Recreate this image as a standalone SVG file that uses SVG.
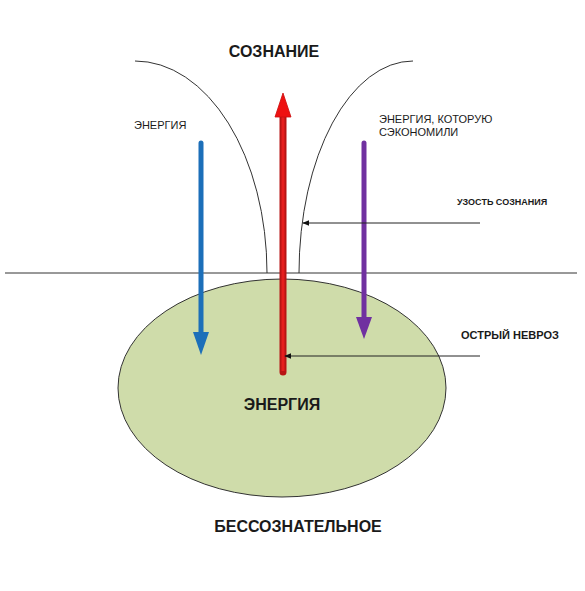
<svg xmlns="http://www.w3.org/2000/svg" width="585" height="591" viewBox="0 0 585 591">
<style>
.t{font-family:"Liberation Sans",Arial,sans-serif;fill:#1a1a1a}
.b{font-weight:bold}
.thin{fill:none;stroke:#333;stroke-width:1}
.ptr{fill:none;stroke:#222;stroke-width:1}
</style>
<defs>
<marker id="sm" viewBox="0 0 10 10" refX="9" refY="5" markerWidth="7" markerHeight="7" markerUnits="userSpaceOnUse" orient="auto">
<path d="M0,1 L10,5 L0,9 z" fill="#111"/>
</marker>
</defs>
<rect width="585" height="591" fill="#fff"/>
<g id="unconscious">
<ellipse cx="282" cy="388" rx="164" ry="109" fill="#cfdcaa" stroke="#333" stroke-width="1"/>
</g>
<g id="boundary">
<line x1="5" y1="273" x2="577" y2="273" class="thin"/>
<path d="M135,61 A132,212 0 0 1 267,273" class="thin"/>
<path d="M413,61 A114,212 0 0 0 299,273" class="thin"/>
</g>
<g id="connectors">
<g id="blue-arrow">
<line x1="201" y1="143" x2="201" y2="334" stroke="#1c6fb9" stroke-width="5" stroke-linecap="round"/>
<path d="M193,332 L209,332 L201,355 z" fill="#1c6fb9"/>
</g>
<g id="red-arrow">
<line x1="283" y1="372" x2="283" y2="115" stroke="#b81414" stroke-width="7" stroke-linecap="round"/>
<line x1="283" y1="371" x2="283" y2="115" stroke="#e61e1e" stroke-width="3"/>
<path d="M275,117 L291,117 L283,93 z" fill="#ee1111" stroke="#cc0c0c" stroke-width="0.8"/>
</g>
<g id="purple-arrow">
<line x1="364" y1="143" x2="364" y2="320" stroke="#7030a0" stroke-width="5" stroke-linecap="round"/>
<path d="M356,317 L372,317 L364,339 z" fill="#7030a0"/>
</g>
<line x1="480" y1="223" x2="303" y2="223" class="ptr" marker-end="url(#sm)"/>
<line x1="480" y1="356" x2="285" y2="356" class="ptr" marker-end="url(#sm)"/>
</g>
<g id="labels">
<text class="t b" x="274" y="57" font-size="16" text-anchor="middle">СОЗНАНИЕ</text>
<text class="t" x="134" y="129" font-size="11">ЭНЕРГИЯ</text>
<text class="t" x="379" y="123" font-size="11">ЭНЕРГИЯ, КОТОРУЮ</text>
<text class="t" x="379" y="136" font-size="11">СЭКОНОМИЛИ</text>
<text class="t b" x="457" y="205" font-size="9">УЗОСТЬ СОЗНАНИЯ</text>
<text class="t b" x="461" y="339" font-size="11">ОСТРЫЙ НЕВРОЗ</text>
<text class="t b" x="282" y="410" font-size="16" text-anchor="middle">ЭНЕРГИЯ</text>
<text class="t b" x="298" y="532" font-size="16" text-anchor="middle">БЕССОЗНАТЕЛЬНОЕ</text>
</g>
</svg>
